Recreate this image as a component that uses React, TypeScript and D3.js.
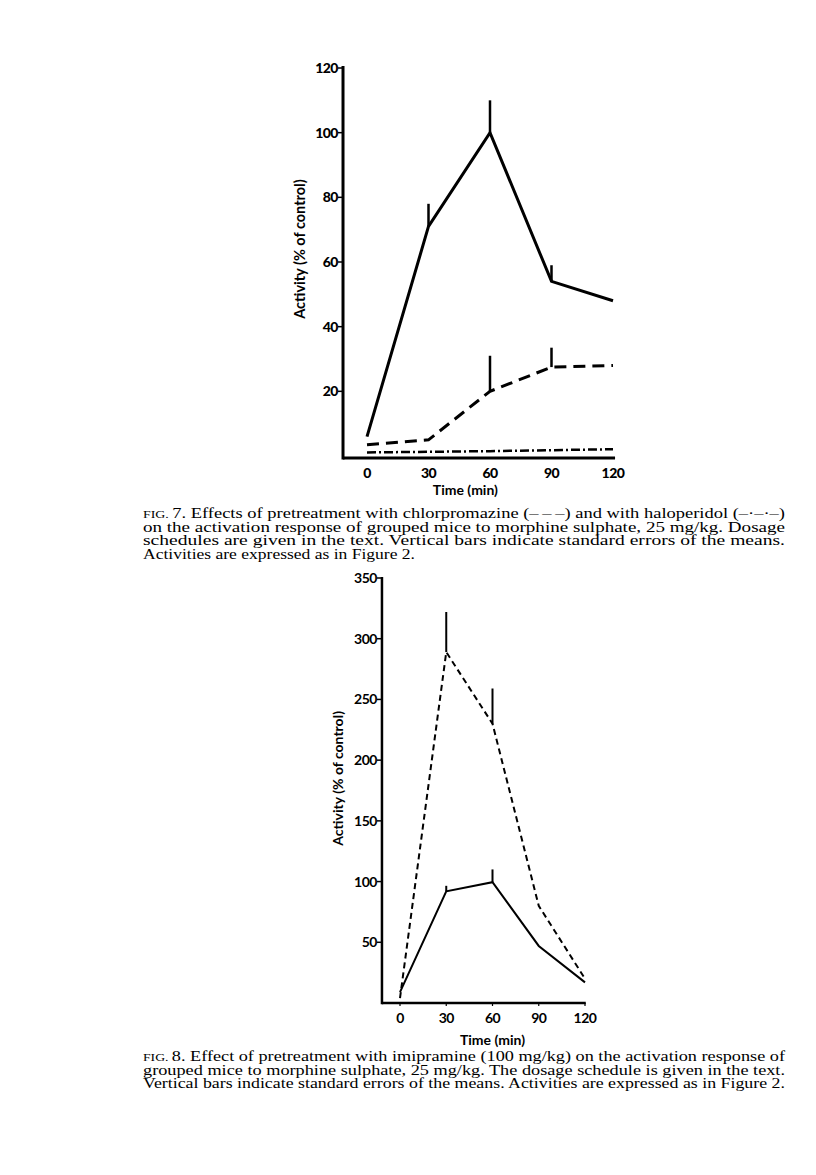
import React from 'react'
import * as d3 from 'd3'

// minutes after morphine
const times = [0, 30, 60, 90, 120]
const xTicks = [0, 30, 60, 90, 120]

// Fig 7
const f7Control = [6, 71, 100, 54, 48]
const f7ControlErr = [null, 78, 110, 59, null]
const f7Chlorpromazine = [3.5, 5, 20, 27.5, 28]
const f7ChlorErr = [null, null, 31, 33.5, null]
const f7Haloperidol = [1.1, 1.3, 1.5, 1.8, 2.1]
const f7YTicks = [20, 40, 60, 80, 100, 120]

// Fig 8
const f8Control = [9, 92, 99.5, 47, 17]
const f8ControlErr = [null, 96.5, 110, null, null]
const f8Imipramine = [4, 289, 230, 80, 20]
const f8ImipErr = [null, 322, 259, null, null]
const f8YTicks = [50, 100, 150, 200, 250, 300, 350]

const cap7 = [
  'Effects of pretreatment with chlorpromazine (–\u2009–\u2009–) and with haloperidol (–·–·–)',
  'on the activation response of grouped mice to morphine sulphate, 25 mg/kg.  Dosage',
  'schedules are given in the text.  Vertical bars indicate standard errors of the means.',
  'Activities are expressed as in Figure 2.',
]
const cap8 = [
  'Effect of pretreatment with imipramine (100 mg/kg) on the activation response of',
  'grouped mice to morphine sulphate, 25 mg/kg.  The dosage schedule is given in the text.',
  'Vertical bars indicate standard errors of the means.  Activities are expressed as in Figure 2.',
]

const sans = 'Lato, "Open Sans", sans-serif'
const serif = '"Liberation Serif", "DejaVu Serif", serif'

function Series({ vals, x, y, width, dash }) {
  const line = d3.line<number>().x((d, i) => x(times[i])).y(d => y(d))
  return <path d={line(vals)!} fill="none" stroke="#000" strokeWidth={width}
    strokeDasharray={dash} strokeLinejoin="miter" />
}

function ErrBars({ vals, errs, x, y, width }) {
  return <g>
    {errs.map((e, i) => e == null ? null :
      <line key={i} x1={x(times[i])} x2={x(times[i])} y1={y(vals[i])} y2={y(e)}
        stroke="#000" strokeWidth={width} />)}
  </g>
}

// printed captions are set in a wide face: stretch each line to its measured width
function Caption({ num, lines, top, widths }) {
  const left = 143, lh = 13.5
  return <g fontFamily={serif} fontSize={14} fill="#000">
    {lines.map((l, i) => (
      <text key={i} x={left} y={top + i * lh}
        textLength={widths[i]} lengthAdjust="spacingAndGlyphs">
        {i === 0 && <tspan fontSize={10.5}>FIG. </tspan>}
        {i === 0 ? num + '.  ' + l : l}
      </text>
    ))}
  </g>
}

export default function App() {
  // Fig 7 scales
  const x7 = d3.scaleLinear().domain([0, 120]).range([367, 613])
  const y7 = d3.scaleLinear().domain([0, 120]).range([456, 68])
  // Fig 8 scales
  const x8 = d3.scaleLinear().domain([0, 120]).range([400, 585])
  const y8 = d3.scaleLinear().domain([0, 350]).range([1003, 578])

  return (
    <svg width={816} height={1175} style={{ position: 'absolute', left: 0, top: 0, background: '#fff' }}>
      <rect width={816} height={1175} fill="#fff" />

      {/* Fig 7 */}
      <g>
        <line x1={x7(-11.7)} x2={x7(121)} y1={y7(0) + 2} y2={y7(0) + 2} stroke="#000" strokeWidth={3} />
        <line x1={x7(-11.7)} x2={x7(-11.7)} y1={y7(120) - 2} y2={y7(0) + 3.5} stroke="#000" strokeWidth={3} />
        {f7YTicks.map(t => <g key={t}>
          <line x1={x7(-11.7) - 5} x2={x7(-11.7)} y1={y7(t)} y2={y7(t)} stroke="#000" strokeWidth={1.5} />
          <text x={x7(-11.7) - 5} y={y7(t) + 5} textAnchor="end" fontFamily={sans} fontWeight={900} fontSize={14} letterSpacing={-0.5}>{t}</text>
        </g>)}
        {xTicks.map(t => <text key={t} x={x7(t)} y={478} textAnchor="middle" fontFamily={sans} fontWeight={900} fontSize={14} letterSpacing={-0.5}>{t}</text>)}
        <text x={x7(48)} y={495} textAnchor="middle" fontFamily={sans} fontWeight={700} fontSize={14}>Time (min)</text>
        <text transform={`translate(305,${y7(64)}) rotate(-90)`} textAnchor="middle" fontFamily={sans} fontWeight={700} fontSize={14.5}>Activity (% of control)</text>

        <Series vals={f7Control} x={x7} y={y7} width={3} />
        <ErrBars vals={f7Control} errs={f7ControlErr} x={x7} y={y7} width={2.5} />
        <Series vals={f7Chlorpromazine} x={x7} y={y7} width={3} dash="12 7" />
        <ErrBars vals={f7Chlorpromazine} errs={f7ChlorErr} x={x7} y={y7} width={2.5} />
        <Series vals={f7Haloperidol} x={x7} y={y7} width={2.5} dash="9 3 2 3" />
      </g>

      <Caption num="7" lines={cap7} top={518} widths={[642, 642, 642, 272]} />

      {/* Fig 8 */}
      <g>
        <line x1={x8(-11.7)} x2={x8(120.5)} y1={y8(0)} y2={y8(0)} stroke="#000" strokeWidth={2.5} />
        <line x1={x8(-11.7)} x2={x8(-11.7)} y1={y8(350) - 1} y2={y8(0) + 1.2} stroke="#000" strokeWidth={2.5} />
        {f8YTicks.map(t => <g key={t}>
          <line x1={x8(-11.7) - 5} x2={x8(-11.7)} y1={y8(t)} y2={y8(t)} stroke="#000" strokeWidth={1.5} />
          <text x={x8(-11.7) - 5} y={y8(t) + 5} textAnchor="end" fontFamily={sans} fontWeight={700} fontSize={14} letterSpacing={-0.5}>{t}</text>
        </g>)}
        {xTicks.map(t => <g key={t}>
          <line x1={x8(t)} x2={x8(t)} y1={y8(0)} y2={y8(0) + 3} stroke="#000" strokeWidth={1.2} />
          <text x={x8(t)} y={1023} textAnchor="middle" fontFamily={sans} fontWeight={700} fontSize={14} letterSpacing={-0.5}>{t}</text>
        </g>)}
        <text x={x8(60)} y={1045} textAnchor="middle" fontFamily={sans} fontWeight={700} fontSize={14}>Time (min)</text>
        <text transform={`translate(343,${y8(185)}) rotate(-90)`} textAnchor="middle" fontFamily={sans} fontWeight={700} fontSize={14}>Activity (% of control)</text>

        <Series vals={f8Control} x={x8} y={y8} width={2} />
        <ErrBars vals={f8Control} errs={f8ControlErr} x={x8} y={y8} width={2} />
        <Series vals={f8Imipramine} x={x8} y={y8} width={2} dash="6 4" />
        <ErrBars vals={f8Imipramine} errs={f8ImipErr} x={x8} y={y8} width={2} />
      </g>

      <Caption num="8" lines={cap8} top={1061} widths={[642, 642, 642]} />
    </svg>
  )
}
